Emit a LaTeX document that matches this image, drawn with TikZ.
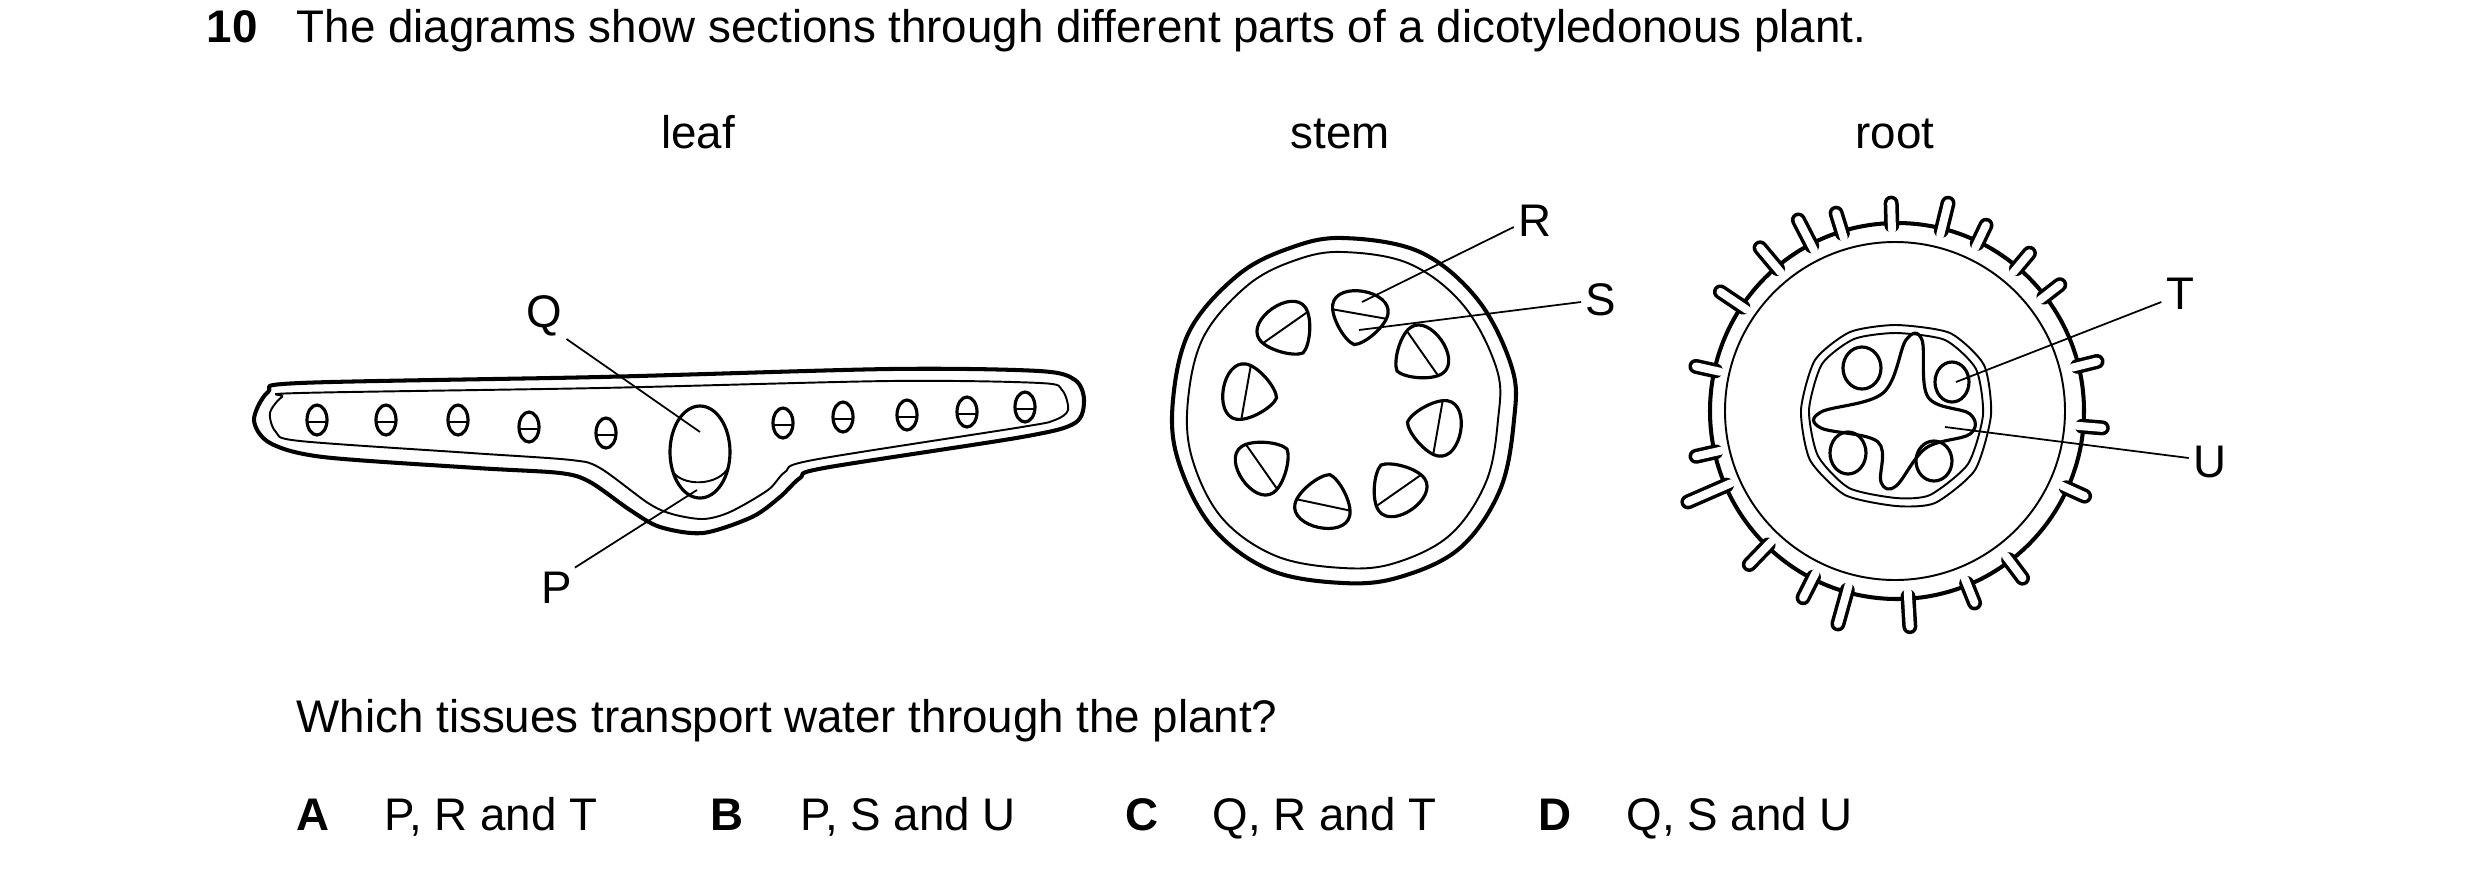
\documentclass[tikz,border=0pt]{standalone}
\usepackage{fontspec}
\setmainfont{Liberation Sans}
\begin{document}
\begin{tikzpicture}[x=0.01cm,y=-0.01cm,
  txt/.style={inner sep=0pt,font=\fontsize{13}{15}\selectfont},
  lab/.style={txt,anchor=base west},
  bf/.style={font=\fontsize{13}{15}\selectfont\bfseries},
  thick1/.style={line width=1.15pt,line join=round},
  thin1/.style={line width=0.55pt},
  lead/.style={line width=0.5pt},
  bund/.style={line width=0.9pt},
  hairB/.style={line width=15*0.2845pt,line cap=round},
  hairW/.style={line width=8*0.2845pt,line cap=round,white}]
\useasboundingbox (0,0) rectangle (2480,878);
% texts
\node[lab,bf] (num) at (206,42) {10};
\node[lab] (title) at (296,42) {The diagrams show sections through different parts of a dicotyledonous plant.};
\node[txt,anchor=base] (tleaf) at (698,148) {leaf};
\node[txt,anchor=base] (tstem) at (1340,148) {stem};
\node[txt,anchor=base] (troot) at (1895,148) {root};
\node[lab] (quest) at (296,732) {Which tissues transport water through the plant?};
\node[lab,bf] (oA) at (296,830) {A};
\node[lab] (aA) at (384,830) {P, R and T};
\node[lab,bf] (oB) at (710,830) {B};
\node[lab] (aB) at (800,830) {P, S and U};
\node[lab,bf] (oC) at (1125,830) {C};
\node[lab] (aC) at (1212,830) {Q, R and T};
\node[lab,bf] (oD) at (1538,830) {D};
\node[lab] (aD) at (1626,830) {Q, S and U};
% ---------- leaf ----------
\draw[thick1] plot[smooth cycle,tension=0.5] coordinates {(254,420)(268,392)(300,383)(600,377)(890,369)(1039,371)(1075,380)(1084,400)(1075,423)(1022,437)(824,468)(800,478)(780,497)(752,517)(703,533)(660,527)(630,510)(590,482)(560,473)(477,468)(323,457)(270,443)};
\draw[thin1] plot[smooth cycle,tension=0.5] coordinates {(270,413)(282,397)(300,393)(600,388)(890,381)(1040,383)(1062,390)(1068,410)(1055,420)(1022,427)(813,460)(785,472)(768,490)(730,512)(703,519)(672,514)(648,503)(600,468)(571,460)(471,453)(300,441)(276,432)};
\foreach \x/\y in {317/420,386/420,458/420,529/427,606/433,783/423,843/417,907/415,967/412,1025/407}{
  \draw[bund] (\x,\y) ellipse [x radius=10,y radius=15];
  \draw[thin1] (\x-9.8,\y+2) -- (\x+9.8,\y+2);
}
\draw[bund] (700,452) ellipse [x radius=30,y radius=46];
\draw[thin1] (672,470) .. controls (680,487) and (720,487) .. (729,466);
\node[txt] (Q) at (544,316) {Q};
\node[txt] (P) at (557,588) {P};
\coordinate (q1) at (700,432);
\coordinate (p1) at (697,490);
\draw[lead] (Q.south east) ++(4,2) -- (q1);
\draw[lead] (P.north east) ++(2,-4) -- (p1);
% ---------- stem ----------
\draw[thick1] plot[smooth cycle,tension=0.6] coordinates {(1343,238)(1420,252)(1478,300)(1512,368)(1514,420)(1500,490)(1460,548)(1400,577)(1343,583)(1270,570)(1212,527)(1178,460)(1173,400)(1190,330)(1238,275)(1290,248)};
\draw[thin1] plot[smooth cycle,tension=0.6] coordinates {(1343,252)(1410,264)(1464,306)(1497,370)(1498,420)(1486,482)(1450,535)(1395,563)(1343,568)(1276,556)(1222,518)(1192,458)(1188,400)(1204,336)(1248,285)(1296,260)};
\foreach \cx/\cy/\r in {1359/317/-10,1287/330/35,1249/393/80,1264/465/125,1324/502/168,1397/488/-145,1435/427/-100,1420/355/-55}{
  \begin{scope}[shift={(\cx,\cy)},rotate=\r]
  \draw[bund] (0,28) .. controls (-10,26) and (-28,5) .. (-28,-8) .. controls (-28,-32) and (28,-32) .. (28,-8) .. controls (28,5) and (10,26) .. (0,28) -- cycle;
  \draw[thin1] (-27.5,-3) -- (27.5,-3);
  \end{scope}
}
\node[txt] (R) at (1535,221) {R};
\node[txt] (S) at (1601,300) {S};
\coordinate (r1) at (1362,302);
\coordinate (s1) at (1359,330);
\draw[lead] (R.west) ++(-4,6) -- (r1);
\draw[lead] (S.west) ++(-4,2) -- (s1);
% ---------- root ----------
\coordinate (C) at (1897,411);
\draw[thick1] (C) ellipse [x radius=187,y radius=188];
\foreach \t/\d in {-91.6/211,-76.2/217,-107.1/210,-117.3/218,-64.4/208,-130/216,-50/204,-146/216,-37.8/202,-167.5/204,-13.9/200,167.3/209,4.7/207,156.5/231,24.4/209,133.9/216,53.1/212,116.7/212,105.5/224,86.6/219,68/210}{
  \pgfmathsetmacro{\L}{max(\d-187-2,20)}
  \draw[hairB] (C) ++(\t:186) -- ++(\t:\L);
  \draw[hairW] (C) ++(\t:181) -- ++(\t:\L+5);
}
\draw[thin1] (1895,411) ellipse [x radius=170,y radius=169];
\draw[thin1] plot[smooth cycle,tension=0.4] coordinates {(1896,325)(1950,333)(1984,365)(1991,415)(1975,470)(1935,503)(1896,506)(1845,495)(1810,460)(1801,410)(1815,360)(1850,332)};
\draw[thin1] plot[smooth cycle,tension=0.4] coordinates {(1896,333)(1945,340)(1976,369)(1983,415)(1968,464)(1930,495)(1896,498)(1849,488)(1818,456)(1809,410)(1822,364)(1854,339)};
\draw[bund] plot[smooth cycle,tension=0.6] coordinates {(1821,428)(1878,442)(1881,482)(1896,486)(1926,448)(1970,434)(1970,414)(1928,397)(1922,340)(1906,340)(1883,393)(1821,412)};
\draw[bund] (1862,368) ellipse [x radius=19,y radius=21];
\draw[bund] (1952,382) ellipse [x radius=17,y radius=20];
\draw[bund] (1848,453) ellipse [x radius=18,y radius=21];
\draw[bund] (1934,461) ellipse [x radius=18,y radius=20];
\node[txt] (T) at (2180,294) {T};
\node[txt] (U) at (2210,462) {U};
\coordinate (t1) at (1956,382);
\coordinate (u1) at (1945,427);
\draw[lead] (T.west) ++(-4,8) -- (t1);
\draw[lead] (U.west) ++(-4,-4) -- (u1);
\end{tikzpicture}
\end{document}
